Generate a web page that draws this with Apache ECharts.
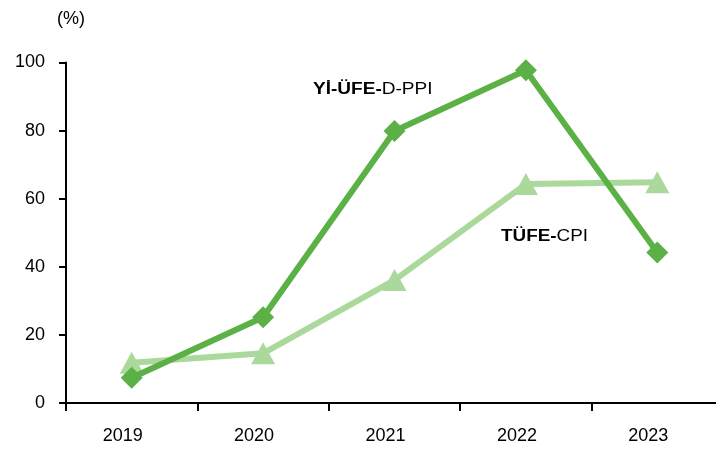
<!DOCTYPE html>
<html><head><meta charset="utf-8">
<script src="https://cdn.jsdelivr.net/npm/echarts@6/dist/echarts.min.js"></script>
<style>html,body{margin:0;padding:0;background:#fff;overflow:hidden}#c{width:723px;height:450px}</style>
</head><body><div id="c"></div>
<script>
const categories = ['2019','2020','2021','2022','2023'];
const ppiValues = [7.4, 25.2, 79.9, 97.7, 44.2];
const cpiValues = [11.8, 14.6, 36.1, 64.3, 64.8];
const yTicks = [0, 20, 40, 60, 80, 100];
const unitLabel = '(%)';

const darkGreen = '#5CB146';
const lightGreen = '#ABD89B';
const font = 'Liberation Sans, Arial, sans-serif';

const chart = echarts.init(document.getElementById('c'));
chart.setOption({
  animation: false,
  backgroundColor: '#fff',
  grid: { left: 66, top: 62.5, right: 0, bottom: 47, containLabel: false },
  xAxis: {
    type: 'category', data: categories, boundaryGap: true,
    axisLine: { lineStyle: { color: '#000', width: 2 } },
    axisTick: { show: true, length: 8, lineStyle: { color: '#000', width: 2 } },
    axisLabel: { color: '#000', fontSize: 18, fontFamily: font, margin: 24, padding: [0, 18, 0, 0] }
  },
  yAxis: {
    type: 'value', min: yTicks[0], max: yTicks[yTicks.length - 1], interval: 20,
    name: unitLabel, nameLocation: 'end', nameGap: 34,
    nameTextStyle: { color: '#000', fontSize: 18, fontFamily: font, align: 'center', padding: [0, 0, 0, 10] },
    axisLine: { show: true, lineStyle: { color: '#000', width: 2 } },
    axisTick: { show: true, length: 7, lineStyle: { color: '#000', width: 2 } },
    axisLabel: { color: '#000', fontSize: 18, fontFamily: font, margin: 21 },
    splitLine: { show: false }
  },
  series: [
    {
      name: 'TÜFE-CPI', type: 'line', data: cpiValues, z: 2,
      symbol: 'triangle', symbolSize: [24, 22],
      lineStyle: { color: lightGreen, width: 6 },
      itemStyle: { color: lightGreen }
    },
    {
      name: 'Yİ-ÜFE-D-PPI', type: 'line', data: ppiValues, z: 3,
      symbol: 'diamond', symbolSize: [22, 22],
      lineStyle: { color: darkGreen, width: 6 },
      itemStyle: { color: darkGreen }
    }
  ],
  graphic: [
    {
      type: 'text', x: 313, y: 82, scaleX: 1.19,
      style: {
        text: '{b|Yİ-ÜFE-}{n|D-PPI}',
        rich: {
          b: { fontWeight: 'bold', fontSize: 16, fontFamily: font, fill: '#000' },
          n: { fontSize: 16, fontFamily: font, fill: '#000' }
        }
      }
    },
    {
      type: 'text', x: 501, y: 229, scaleX: 1.18,
      style: {
        text: '{b|TÜFE-}{n|CPI}',
        rich: {
          b: { fontWeight: 'bold', fontSize: 16, fontFamily: font, fill: '#000' },
          n: { fontSize: 16, fontFamily: font, fill: '#000' }
        }
      }
    }
  ]
});
</script></body></html>
